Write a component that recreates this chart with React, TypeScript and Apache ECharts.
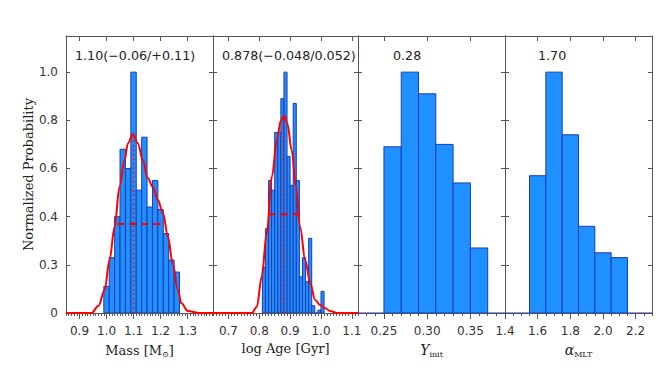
import React, { useEffect, useRef } from 'react';
import * as echarts from 'echarts';

// ---------- data ----------
const yTickValues = [0, 0.2, 0.4, 0.6, 0.8, 1.0];
const yTickLabels = ['0', '0.3', '0.4', '0.6', '0.8', '1.0'];

// Panel 1: Mass
const massRange = [0.85, 1.394];
const massMajor = [0.9, 1.0, 1.1, 1.2, 1.3];
const massMajorLabels = ['0.9', '1.0', '1.1', '1.2', '1.3'];
const massBinStart = [0.99, 1.01, 1.03, 1.05, 1.07, 1.09, 1.11, 1.13, 1.15, 1.17, 1.19, 1.21, 1.23, 1.25];
const massBinWidth = 0.02;
const massHeights = [0.11, 0.23, 0.4, 0.68, 0.6, 1.0, 0.51, 0.73, 0.44, 0.55, 0.43, 0.33, 0.22, 0.17];
const massKdeX = [0.85, 0.945, 0.97, 0.993, 1.011, 1.03, 1.048, 1.067, 1.079, 1.097, 1.116, 1.134, 1.153, 1.171, 1.19, 1.209, 1.227, 1.245, 1.264, 1.277, 1.301, 1.344, 1.394];
const massKdeY = [0, 0, 0.03, 0.095, 0.22, 0.358, 0.524, 0.635, 0.704, 0.743, 0.704, 0.635, 0.559, 0.524, 0.469, 0.414, 0.317, 0.206, 0.095, 0.04, 0.008, 0, 0];
const massMedian = 1.1;
const massPeak = 0.743;
const massInterval = [1.04, 1.21];
const massHalf = 0.37;

// Panel 2: log Age
const ageRange = [0.65, 1.12];
const ageMajor = [0.7, 0.8, 0.9, 1.0, 1.1];
const ageMajorLabels = ['0.7', '0.8', '0.9', '1.0', '1.1'];
const ageBinStart = [0.81, 0.82, 0.83, 0.84, 0.85, 0.86, 0.87, 0.88, 0.89, 0.9, 0.91, 0.92, 0.93, 0.94, 0.95, 0.96, 0.97, 0.98, 0.99, 1.0];
const ageBinWidth = 0.01;
const ageHeights = [0.19, 0.35, 0.55, 0.51, 0.75, 0.75, 0.89, 1.0, 0.65, 0.53, 0.87, 0.55, 0.15, 0.23, 0.13, 0.31, 0.03, 0, 0.012, 0.09];
const ageKdeX = [0.65, 0.776, 0.792, 0.808, 0.824, 0.841, 0.857, 0.87, 0.881, 0.891, 0.905, 0.919, 0.932, 0.949, 0.965, 0.981, 0.997, 1.014, 1.03, 1.052, 1.12];
const ageKdeY = [0, 0, 0.026, 0.151, 0.331, 0.566, 0.718, 0.8, 0.819, 0.787, 0.676, 0.524, 0.358, 0.22, 0.123, 0.054, 0.033, 0.02, 0.008, 0, 0];
const ageMedian = 0.878;
const agePeak = 0.819;
const ageInterval = [0.83, 0.93];
const ageHalf = 0.41;

// Panel 3: Y_init
const yinitRange = [0.22, 0.39];
const yinitMajor = [0.25, 0.3, 0.35];
const yinitMajorLabels = ['0.25', '0.30', '0.35'];
const yinitBinStart = [0.25, 0.27, 0.29, 0.31, 0.33, 0.35];
const yinitBinWidth = 0.02;
const yinitHeights = [0.69, 1.0, 0.91, 0.7, 0.54, 0.27];

// Panel 4: alpha_MLT
const alphaRange = [1.4, 2.3];
const alphaMajor = [1.4, 1.6, 1.8, 2.0, 2.2];
const alphaMajorLabels = ['1.4', '1.6', '1.8', '2.0', '2.2'];
const alphaBinStart = [1.55, 1.65, 1.75, 1.85, 1.95, 2.05];
const alphaBinWidth = 0.1;
const alphaHeights = [0.57, 1.0, 0.74, 0.36, 0.25, 0.23];

const annotations = ['1.10(\u22120.06/+0.11)', '0.878(\u22120.048/0.052)', '0.28', '1.70'];
const xTitles = ['Mass [M{sub|\u2299}]', 'log Age [Gyr]', '{it|Y}{sub|init}', '{it|\u03b1}{sub|MLT}'];

// ---------- layout ----------
const TOP = 36;
const HEIGHT = 277;
const panelsLayout = [
  { left: 66, width: 147, minorStep: 0.01, annX: 75 },
  { left: 213, width: 145, minorStep: 0.01, annX: 222 },
  { left: 358, width: 147, minorStep: 0.01, annX: 393 },
  { left: 505, width: 147, minorStep: 0.05, annX: 538 },
];

const FRAME = '#555';
const BAR_FILL = '#1E90FF';
const BAR_EDGE = '#1f3bb3';
const RED = '#ff0000';
const SANS = 'DejaVu Sans';
const SERIF = 'DejaVu Serif';

function minorTicks(range: number[], step: number) {
  const out: number[] = [];
  const n0 = Math.ceil(range[0] / step - 1e-6);
  const n1 = Math.floor(range[1] / step + 1e-6);
  for (let k = n0; k <= n1; k++) out.push(+(k * step).toFixed(4));
  return out;
}

function histData(starts: number[], width: number, heights: number[]) {
  return starts.map((s, i) => [s, +(s + width).toFixed(4), heights[i]]);
}

export default function App() {
  const ref = useRef<HTMLDivElement>(null);
  useEffect(() => {
    if (!ref.current) return;
    const chart = echarts.init(ref.current, null, { renderer: 'svg' });

    const panels = [
      { range: massRange, major: massMajor, labels: massMajorLabels, hist: histData(massBinStart, massBinWidth, massHeights),
        kde: massKdeX.map((x, i) => [x, massKdeY[i]]), median: massMedian, peak: massPeak, interval: massInterval, half: massHalf },
      { range: ageRange, major: ageMajor, labels: ageMajorLabels, hist: histData(ageBinStart, ageBinWidth, ageHeights),
        kde: ageKdeX.map((x, i) => [x, ageKdeY[i]]), median: ageMedian, peak: agePeak, interval: ageInterval, half: ageHalf },
      { range: yinitRange, major: yinitMajor, labels: yinitMajorLabels, hist: histData(yinitBinStart, yinitBinWidth, yinitHeights) },
      { range: alphaRange, major: alphaMajor, labels: alphaMajorLabels, hist: histData(alphaBinStart, alphaBinWidth, alphaHeights) },
    ] as any[];

    const grid: any[] = [];
    const xAxis: any[] = [];
    const yAxis: any[] = [];
    const series: any[] = [];
    const graphic: any[] = [];

    panels.forEach((p, i) => {
      const L = panelsLayout[i];
      grid.push({ left: L.left, top: TOP, width: L.width, height: HEIGHT, containLabel: false });
      const common = { type: 'value', gridIndex: i, min: p.range[0], max: p.range[1], splitLine: { show: false } };
      xAxis.push({
        ...common,
        position: 'bottom',
        axisLine: { show: true, onZero: false, lineStyle: { color: FRAME, width: 1 } },
        axisTick: { show: true, inside: false, length: 6, customValues: p.major, lineStyle: { color: FRAME } },
        axisLabel: {
          show: true, customValues: p.major, margin: 12, fontFamily: SANS, fontSize: 12, color: '#333',
          formatter: (v: number) => { const k = p.major.indexOf(v); return k >= 0 ? p.labels[k] : ''; },
        },
        name: xTitles[i],
        nameLocation: 'middle',
        nameGap: 29,
        nameTextStyle: {
          fontFamily: SERIF, fontSize: 13, color: '#222',
          rich: {
            sub: { fontFamily: SERIF, fontSize: 8, color: '#222', verticalAlign: 'bottom', padding: [8, 0, 0, 0] },
            it: { fontFamily: SERIF, fontSize: 14, fontStyle: 'italic', color: '#222' },
          },
        },
      });
      xAxis.push({
        ...common,
        position: 'bottom',
        axisLine: { show: false, onZero: false },
        axisTick: { show: true, inside: false, length: 3, customValues: minorTicks(p.range, L.minorStep), lineStyle: { color: FRAME } },
        axisLabel: { show: false },
      });
      xAxis.push({
        ...common,
        position: 'top',
        axisLine: { show: true, onZero: false, lineStyle: { color: FRAME, width: 1 } },
        axisTick: { show: true, inside: true, length: 5, customValues: p.major, lineStyle: { color: FRAME } },
        axisLabel: { show: false },
      });
      const ycommon = { type: 'value', gridIndex: i, min: 0, max: 1.15, splitLine: { show: false } };
      yAxis.push({
        ...ycommon,
        position: 'left',
        axisLine: { show: true, onZero: false, lineStyle: { color: FRAME, width: 1 } },
        axisTick: { show: true, inside: true, length: 4, customValues: yTickValues, lineStyle: { color: FRAME } },
        axisLabel: {
          show: i === 0, customValues: yTickValues, margin: 8, fontFamily: SANS, fontSize: 12, color: '#333',
          formatter: (v: number) => { const k = yTickValues.indexOf(v); return k >= 0 ? yTickLabels[k] : ''; },
        },
        name: i === 0 ? 'Normalized Probability' : '',
        nameLocation: 'middle',
        nameGap: 29,
        nameTextStyle: { fontFamily: SERIF, fontSize: 13, color: '#222' },
      });
      yAxis.push({
        ...ycommon,
        position: 'right',
        axisLine: { show: true, onZero: false, lineStyle: { color: FRAME, width: 1 } },
        axisTick: { show: true, inside: true, length: 4, customValues: yTickValues, lineStyle: { color: FRAME } },
        axisLabel: { show: false },
      });

      const xi = i * 3;
      const yi = i * 2;
      series.push({
        type: 'custom',
        xAxisIndex: xi,
        yAxisIndex: yi,
        data: p.hist,
        encode: { x: [0, 1], y: 2 },
        clip: true,
        z: 2,
        renderItem: (params: any, api: any) => {
          const a = api.coord([api.value(0), api.value(2)]);
          const b = api.coord([api.value(1), 0]);
          return {
            type: 'rect',
            shape: { x: a[0], y: a[1], width: b[0] - a[0], height: b[1] - a[1] },
            style: { fill: BAR_FILL, stroke: BAR_EDGE, lineWidth: 1 },
          };
        },
      });
      if (p.kde) {
        series.push({
          type: 'line', xAxisIndex: xi, yAxisIndex: yi, data: p.kde, smooth: 0.35, smoothMonotone: 'x',
          showSymbol: false, symbol: 'none', lineStyle: { color: RED, width: 2 }, z: 5, clip: true,
        });
        series.push({
          type: 'line', xAxisIndex: xi, yAxisIndex: yi, data: [[p.median, 0], [p.median, p.peak]],
          showSymbol: false, symbol: 'none', lineStyle: { color: RED, width: 1.5, type: [1.5, 3] }, z: 6,
        });
        series.push({
          type: 'line', xAxisIndex: xi, yAxisIndex: yi, data: [[p.interval[0], p.half], [p.interval[1], p.half]],
          showSymbol: false, symbol: 'none', lineStyle: { color: RED, width: 2, type: [7, 5] }, z: 6,
        });
      } else {
        series.push({
          type: 'line', xAxisIndex: xi, yAxisIndex: yi, data: [[p.range[0], 0], [p.range[1], 0]],
          showSymbol: false, symbol: 'none', lineStyle: { color: BAR_EDGE, width: 1 }, z: 1,
        });
      }
      graphic.push({
        type: 'text', left: L.annX, top: 49,
        style: { text: annotations[i], fontFamily: SANS, fontSize: 12.7, fill: '#222' },
      });
    });

    chart.setOption({
      animation: false,
      backgroundColor: '#ffffff',
      grid, xAxis, yAxis, series, graphic,
    });
    return () => chart.dispose();
  }, []);
  return <div ref={ref} style={{ position: 'fixed', left: 0, top: 0, width: 664, height: 369 }} />;
}
